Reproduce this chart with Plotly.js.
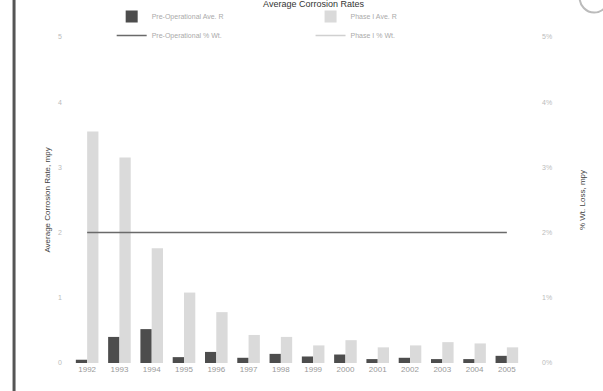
<!DOCTYPE html>
<html>
<head>
<meta charset="utf-8">
<script src="https://cdn.plot.ly/plotly-3.0.1.min.js"></script>
<style>html,body{margin:0;padding:0;background:#fff;}#chart{width:603px;height:391px;}</style>
</head>
<body>
<div id="chart"></div>
<script>
const years = ["1992","1993","1994","1995","1996","1997","1998","1999","2000","2001","2002","2003","2004","2005"];
const preOpAvg = [0.05,0.40,0.52,0.09,0.17,0.08,0.14,0.10,0.13,0.06,0.08,0.06,0.06,0.11];
const phaseIAvg = [3.55,3.15,1.76,1.08,0.78,0.43,0.40,0.27,0.35,0.24,0.27,0.32,0.30,0.24];
const preOpWt = [2,2,2,2,2,2,2,2,2,2,2,2,2,2];
const phaseIWt = [null,null,null,null,null,null,null,null,null,null,null,null,null,null];
const leftTicks = [0,1,2,3,4,5];
const rightTicks = ["0%","1%","2%","3%","4%","5%"];

const traces = [
  {type:'bar', name:'Pre-Operational Ave. R', x:years, y:preOpAvg, marker:{color:'#4d4d4d'}},
  {type:'bar', name:'Phase I Ave. R', x:years, y:phaseIAvg, marker:{color:'#dadada'}},
  {type:'scatter', mode:'lines', name:'Pre-Operational % Wt.', x:years, y:preOpWt, yaxis:'y2', line:{color:'#6a6a6a', width:1.5}},
  {type:'scatter', mode:'lines', name:'Phase I % Wt.', x:years, y:phaseIWt, yaxis:'y2', line:{color:'#d0d0d0', width:1.5}, showlegend:true}
];

const layout = {
  width:603, height:391,
  margin:{l:71, r:80, t:37, b:28, autoexpand:false},
  paper_bgcolor:'#fff', plot_bgcolor:'#fff',
  font:{family:'Liberation Sans, Arial, sans-serif', color:'#999', size:8},
  title:{text:'Average Corrosion Rates', x:0.52, xanchor:'center', xref:'container', y:0.999, yanchor:'top', yref:'container', font:{size:9, color:'#333'}},
  barmode:'group', bargap:0.3, bargroupgap:0,
  showlegend:true,
  legend:{orientation:'h', x:0.09, xanchor:'left', xref:'paper', y:0.995, yanchor:'top', yref:'container', font:{size:7, color:'#aaa'},
          entrywidth:0.44, entrywidthmode:'fraction', tracegroupgap:0, itemwidth:30, bgcolor:'rgba(0,0,0,0)'},
  xaxis:{type:'category', showgrid:false, zeroline:false, showline:false, ticks:'', tickfont:{size:8, color:'#999'}},
  yaxis:{range:[0,5], tickvals:leftTicks, ticktext:leftTicks.map(String), showgrid:false, zeroline:false, showline:false, ticks:'',
         tickfont:{size:7, color:'#bbb'}, ticklabelstandoff:8,
         title:{text:'Average Corrosion Rate, mpy', font:{size:8, color:'#444'}, standoff:6}},
  yaxis2:{overlaying:'y', side:'right', range:[0,5], tickvals:leftTicks, ticktext:rightTicks, showgrid:false, zeroline:false, showline:false, ticks:'',
          tickfont:{size:7, color:'#bbb'}, ticklabelstandoff:18,
          title:{text:'% Wt. Loss, mpy', font:{size:8, color:'#444'}, standoff:28}},
  shapes:[
    {type:'line', xref:'paper', yref:'paper', x0:-0.126, x1:-0.126, y0:-0.1, y1:1.2, line:{color:'#555', width:3}},
    {type:'circle', xref:'paper', yref:'paper', x0:1.125, x1:1.19, y0:1.075, y1:1.17, line:{color:'#bbb', width:2}, fillcolor:'rgba(0,0,0,0)'}
  ]
};

Plotly.newPlot('chart', traces, layout, {displayModeBar:false, staticPlot:true});
</script>
</body>
</html>
